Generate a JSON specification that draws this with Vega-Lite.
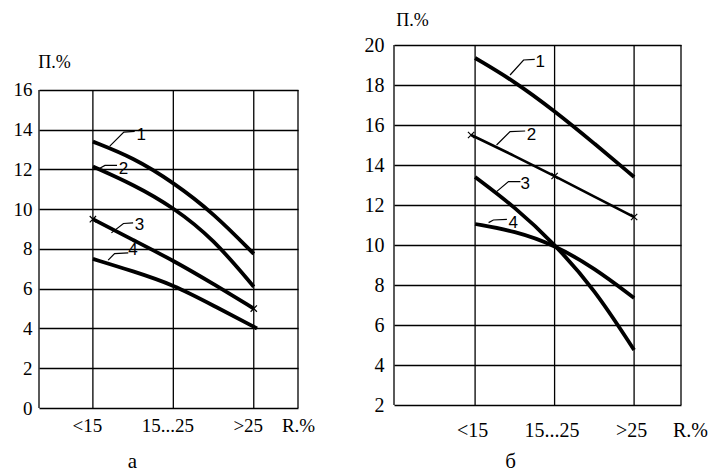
{
  "$schema": "https://vega.github.io/schema/vega-lite/v6.json",
  "padding": {"left": 13, "top": 11, "right": 5, "bottom": 2},
  "background": "white",
  "config": {
    "view": {"stroke": null},
    "font": "serif",
    "axis": {"labelFont": "serif", "titleFont": "serif", "labelColor": "black", "titleColor": "black", "titleFontWeight": "normal", "gridColor": "black", "gridOpacity": 1, "gridWidth": 1.3, "domain": false, "ticks": false},
    "title": {"font": "serif", "fontWeight": "normal", "color": "black"}
  },
  "spacing": 96,
  "bounds": "flush",
  "datasets": {
    "grid": [
      {"panel": "a", "x": -0.67, "y": 0, "y2": 16},
      {"panel": "a", "x": 0, "y": 0, "y2": 16},
      {"panel": "a", "x": 1, "y": 0, "y2": 16},
      {"panel": "a", "x": 2, "y": 0, "y2": 16},
      {"panel": "a", "x": 2.55, "y": 0, "y2": 16},
      {"panel": "b", "x": -1.02, "y": 2, "y2": 20},
      {"panel": "b", "x": 0, "y": 2, "y2": 20},
      {"panel": "b", "x": 1, "y": 2, "y2": 20},
      {"panel": "b", "x": 2, "y": 2, "y2": 20},
      {"panel": "b", "x": 2.59, "y": 2, "y2": 20}
    ],
    "curves": [
      {"panel": "a", "series": "1", "x": 0, "y": 13.4},
      {"panel": "a", "series": "1", "x": 0.5, "y": 12.6},
      {"panel": "a", "series": "1", "x": 1, "y": 11.35},
      {"panel": "a", "series": "1", "x": 1.5, "y": 9.8},
      {"panel": "a", "series": "1", "x": 2, "y": 7.75},
      {"panel": "a", "series": "2", "x": 0, "y": 12.15},
      {"panel": "a", "series": "2", "x": 0.5, "y": 11.25},
      {"panel": "a", "series": "2", "x": 1, "y": 10.1},
      {"panel": "a", "series": "2", "x": 1.5, "y": 8.5},
      {"panel": "a", "series": "2", "x": 2, "y": 6.1},
      {"panel": "a", "series": "3", "x": 0, "y": 9.5},
      {"panel": "a", "series": "3", "x": 0.5, "y": 8.45},
      {"panel": "a", "series": "3", "x": 1, "y": 7.42},
      {"panel": "a", "series": "3", "x": 1.5, "y": 6.24},
      {"panel": "a", "series": "3", "x": 2, "y": 5.0},
      {"panel": "a", "series": "4", "x": 0, "y": 7.5},
      {"panel": "a", "series": "4", "x": 0.5, "y": 6.88},
      {"panel": "a", "series": "4", "x": 1, "y": 6.2},
      {"panel": "a", "series": "4", "x": 1.5, "y": 5.15},
      {"panel": "a", "series": "4", "x": 2.04, "y": 4.0},
      {"panel": "b", "series": "1", "x": 0, "y": 19.35},
      {"panel": "b", "series": "1", "x": 0.5, "y": 18.17},
      {"panel": "b", "series": "1", "x": 1, "y": 16.7},
      {"panel": "b", "series": "1", "x": 1.5, "y": 15.08},
      {"panel": "b", "series": "1", "x": 2, "y": 13.4},
      {"panel": "b", "series": "2", "x": -0.05, "y": 15.5},
      {"panel": "b", "series": "2", "x": 0.5, "y": 14.45},
      {"panel": "b", "series": "2", "x": 1, "y": 13.45},
      {"panel": "b", "series": "2", "x": 1.5, "y": 12.42},
      {"panel": "b", "series": "2", "x": 2, "y": 11.4},
      {"panel": "b", "series": "3", "x": 0, "y": 13.4},
      {"panel": "b", "series": "3", "x": 0.5, "y": 11.9},
      {"panel": "b", "series": "3", "x": 1, "y": 10.05},
      {"panel": "b", "series": "3", "x": 1.5, "y": 7.8},
      {"panel": "b", "series": "3", "x": 2, "y": 4.75},
      {"panel": "b", "series": "4", "x": 0, "y": 11.05},
      {"panel": "b", "series": "4", "x": 0.5, "y": 10.7},
      {"panel": "b", "series": "4", "x": 1, "y": 10.0},
      {"panel": "b", "series": "4", "x": 1.5, "y": 8.85},
      {"panel": "b", "series": "4", "x": 2, "y": 7.35}
    ],
    "leaders": [
      {"panel": "a", "series": "1", "x": 0.21, "y": 13.17},
      {"panel": "a", "series": "1", "x": 0.385, "y": 13.88},
      {"panel": "a", "series": "1", "x": 0.52, "y": 13.92},
      {"panel": "a", "series": "2", "x": 0.08, "y": 12.05},
      {"panel": "a", "series": "2", "x": 0.15, "y": 12.2},
      {"panel": "a", "series": "2", "x": 0.3, "y": 12.2},
      {"panel": "a", "series": "3", "x": 0.23, "y": 8.81},
      {"panel": "a", "series": "3", "x": 0.38, "y": 9.28},
      {"panel": "a", "series": "3", "x": 0.5, "y": 9.31},
      {"panel": "a", "series": "4", "x": 0.19, "y": 7.44},
      {"panel": "a", "series": "4", "x": 0.27, "y": 7.77},
      {"panel": "a", "series": "4", "x": 0.44, "y": 7.8},
      {"panel": "b", "series": "1", "x": 0.44, "y": 18.5},
      {"panel": "b", "series": "1", "x": 0.61, "y": 19.25},
      {"panel": "b", "series": "1", "x": 0.75, "y": 19.28},
      {"panel": "b", "series": "2", "x": 0.27, "y": 15.0},
      {"panel": "b", "series": "2", "x": 0.44, "y": 15.67},
      {"panel": "b", "series": "2", "x": 0.63, "y": 15.7},
      {"panel": "b", "series": "3", "x": 0.27, "y": 12.67},
      {"panel": "b", "series": "3", "x": 0.42, "y": 13.17},
      {"panel": "b", "series": "3", "x": 0.57, "y": 13.17},
      {"panel": "b", "series": "4", "x": 0.17, "y": 11.12},
      {"panel": "b", "series": "4", "x": 0.23, "y": 11.25},
      {"panel": "b", "series": "4", "x": 0.4, "y": 11.28}
    ],
    "labels": [
      {"panel": "a", "label": "1", "x": 0.6, "y": 13.72},
      {"panel": "a", "label": "2", "x": 0.38, "y": 12.0},
      {"panel": "a", "label": "3", "x": 0.58, "y": 9.2},
      {"panel": "a", "label": "4", "x": 0.5, "y": 7.94},
      {"panel": "b", "label": "1", "x": 0.82, "y": 19.17},
      {"panel": "b", "label": "2", "x": 0.71, "y": 15.5},
      {"panel": "b", "label": "3", "x": 0.63, "y": 13.03},
      {"panel": "b", "label": "4", "x": 0.48, "y": 11.08}
    ],
    "markers": [
      {"panel": "a", "x": 0, "y": 9.5},
      {"panel": "a", "x": 2, "y": 5.0},
      {"panel": "b", "x": -0.05, "y": 15.5},
      {"panel": "b", "x": 1, "y": 13.45},
      {"panel": "b", "x": 2, "y": 11.4}
    ]
  },
  "hconcat": [
    {
      "width": 259,
      "height": 363,
      "title": {"text": "а", "orient": "bottom", "frame": "group", "anchor": "middle", "dx": -36, "offset": 33, "baseline": "alphabetic", "fontSize": 21},
      "encoding": {
        "x": {"field": "x", "type": "quantitative", "scale": {"domain": [-0.67, 2.55], "nice": false, "zero": false},
          "axis": {"values": [0, 1, 2], "labelExpr": "['<15', '15...25', '>25'][datum.value]", "grid": false, "labelFontSize": 19, "labelPadding": 8, "labelOffset": -6, "title": "R.%", "titleX": 259, "titleY": 17, "titleBaseline": "middle", "titleAlign": "center", "titleFontSize": 19}},
        "y": {"field": "y", "type": "quantitative", "scale": {"domain": [0, 18.26], "nice": false, "zero": false},
          "axis": {"values": [0, 2, 4, 6, 8, 10, 12, 14, 16], "grid": true, "labelFontSize": 19, "labelPadding": 7, "title": "П.%", "titleAngle": 0, "titleX": 15, "titleY": 17, "titleBaseline": "middle", "titleAlign": "center", "titleFontSize": 18}}
      },
      "layer": [
        {"data": {"name": "grid"}, "transform": [{"filter": "datum.panel == 'a'"}], "mark": {"type": "rule", "color": "black", "strokeWidth": 1.3}, "encoding": {"y2": {"field": "y2"}}},
        {"data": {"name": "curves"}, "transform": [{"filter": "datum.panel == 'a'"}], "mark": {"type": "line", "color": "black", "strokeWidth": 3.8, "interpolate": "basis", "strokeCap": "butt"}, "encoding": {"detail": {"field": "series"}}},
        {"data": {"name": "leaders"}, "transform": [{"filter": "datum.panel == 'a'"}], "mark": {"type": "line", "color": "black", "strokeWidth": 1.2}, "encoding": {"detail": {"field": "series"}}},
        {"data": {"name": "labels"}, "transform": [{"filter": "datum.panel == 'a'"}], "mark": {"type": "text", "font": "Liberation Sans", "fontSize": 17, "color": "black", "align": "center", "baseline": "middle"}, "encoding": {"text": {"field": "label"}}},
        {"data": {"name": "markers"}, "transform": [{"filter": "datum.panel == 'a'"}], "mark": {"type": "point", "shape": "M-1,-1L1,1M-1,1L1,-1", "filled": false, "color": "black", "strokeWidth": 1.2, "size": 40, "opacity": 1}}
      ]
    },
    {
      "width": 287,
      "height": 360,
      "title": {"text": "б", "orient": "bottom", "frame": "group", "anchor": "middle", "dx": -27, "offset": 28, "baseline": "alphabetic", "fontSize": 21},
      "encoding": {
        "x": {"field": "x", "type": "quantitative", "scale": {"domain": [-1.02, 2.59], "nice": false, "zero": false},
          "axis": {"values": [0, 1, 2], "labelExpr": "['<15', '15...25', '>25'][datum.value]", "grid": false, "labelFontSize": 20, "labelPadding": 15, "labelOffset": -3, "title": "R.%", "titleX": 296, "titleY": 25, "titleBaseline": "middle", "titleAlign": "center", "titleFontSize": 20}},
        "y": {"field": "y", "type": "quantitative", "scale": {"domain": [2, 20], "nice": false, "zero": false},
          "axis": {"values": [2, 4, 6, 8, 10, 12, 14, 16, 18, 20], "grid": true, "labelFontSize": 20, "labelPadding": 10, "title": "П.%", "titleAngle": 0, "titleX": 18, "titleY": -25, "titleBaseline": "middle", "titleAlign": "center", "titleFontSize": 18}}
      },
      "layer": [
        {"data": {"name": "grid"}, "transform": [{"filter": "datum.panel == 'b'"}], "mark": {"type": "rule", "color": "black", "strokeWidth": 1.3}, "encoding": {"y2": {"field": "y2"}}},
        {"data": {"name": "curves"}, "transform": [{"filter": "datum.panel == 'b' && datum.series != '2'"}], "mark": {"type": "line", "color": "black", "strokeWidth": 3.8, "interpolate": "basis", "strokeCap": "butt"}, "encoding": {"detail": {"field": "series"}}},
        {"data": {"name": "curves"}, "transform": [{"filter": "datum.panel == 'b' && datum.series == '2'"}], "mark": {"type": "line", "color": "black", "strokeWidth": 2.6, "interpolate": "basis", "strokeCap": "butt"}, "encoding": {"detail": {"field": "series"}}},
        {"data": {"name": "leaders"}, "transform": [{"filter": "datum.panel == 'b'"}], "mark": {"type": "line", "color": "black", "strokeWidth": 1.2}, "encoding": {"detail": {"field": "series"}}},
        {"data": {"name": "labels"}, "transform": [{"filter": "datum.panel == 'b'"}], "mark": {"type": "text", "font": "Liberation Sans", "fontSize": 17, "color": "black", "align": "center", "baseline": "middle"}, "encoding": {"text": {"field": "label"}}},
        {"data": {"name": "markers"}, "transform": [{"filter": "datum.panel == 'b'"}], "mark": {"type": "point", "shape": "M-1,-1L1,1M-1,1L1,-1", "filled": false, "color": "black", "strokeWidth": 1.2, "size": 40, "opacity": 1}}
      ]
    }
  ]
}
